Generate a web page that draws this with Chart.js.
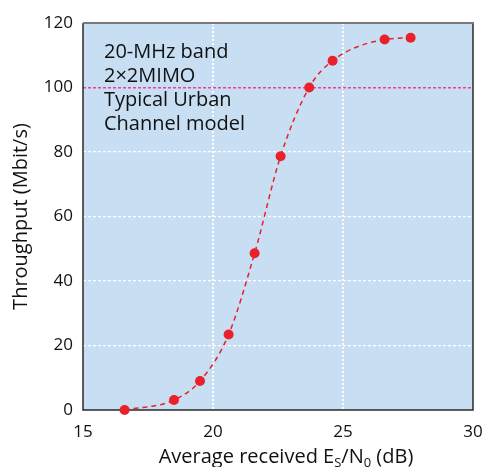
<!DOCTYPE html>
<html>
<head>
<meta charset="utf-8">
<script src="https://cdn.jsdelivr.net/npm/chart.js@4"></script>
<style>
  html, body { margin: 0; padding: 0; background: #fff; }
</style>
</head>
<body>
<canvas id="chart" width="485" height="467"></canvas>
<script>
// values
const snr = [16.6, 18.5, 19.5, 20.6, 21.6, 22.6, 23.7, 24.6, 26.6, 27.6];
const throughput = [0, 3.1, 9.0, 23.4, 48.6, 78.7, 100, 108.3, 114.9, 115.4];
const xTicks = [15, 20, 25, 30];
const yTicks = [0, 20, 40, 60, 80, 100, 120];
const refLevel = 100;
const noteLines = ['20-MHz band', '2×2MIMO', 'Typical Urban', 'Channel model'];

const FONT = "'Open Sans', 'Noto Sans', sans-serif";
const RED = '#E8212B';

const plotDecor = {
    id: 'plotDecor',
    beforeDraw(chart) {
        const { ctx, chartArea: a } = chart;
        ctx.save();
        ctx.fillStyle = '#C8DEF3';
        ctx.fillRect(a.left, a.top, a.right - a.left, a.bottom - a.top);
        ctx.restore();
    },
    beforeDatasetsDraw(chart) {
        const { ctx, chartArea: a } = chart;
        ctx.save();
        ctx.lineWidth = 1.5;
        ctx.strokeStyle = '#2a2a2a';
        ctx.beginPath();
        ctx.moveTo(a.left, a.top);
        ctx.lineTo(a.left, a.bottom);
        ctx.lineTo(a.right, a.bottom);
        ctx.lineTo(a.right, a.top);
        ctx.stroke();
        ctx.strokeStyle = '#7a7a7a';
        ctx.lineWidth = 2;
        ctx.beginPath();
        ctx.moveTo(a.left, a.top);
        ctx.lineTo(a.right + 1, a.top);
        ctx.stroke();
        ctx.restore();
    },
    afterDraw(chart) {
        const { ctx, chartArea: a } = chart;
        ctx.save();
        ctx.fillStyle = '#111';
        ctx.font = '20px ' + FONT;
        ctx.textBaseline = 'alphabetic';
        noteLines.forEach((t, i) => ctx.fillText(t, a.left + 21, a.top + 35 + i * 24));

        // x axis title with subscripts
        const parts = [
            ['Average received E', 20, 0],
            ['S', 13, 4],
            ['/N', 20, 0],
            ['0', 13, 4],
            [' (dB)', 20, 0]
        ];
        let w = 0;
        parts.forEach(p => { ctx.font = p[1] + 'px ' + FONT; w += ctx.measureText(p[0]).width; });
        let x = 286 - w / 2;
        const base = 463;
        parts.forEach(p => {
            ctx.font = p[1] + 'px ' + FONT;
            ctx.fillText(p[0], x, base + p[2]);
            x += ctx.measureText(p[0]).width;
        });
        ctx.restore();
    }
};

new Chart(document.getElementById('chart'), {
    type: 'line',
    data: {
        datasets: [{
            data: snr.map((v, i) => ({ x: v, y: throughput[i] })),
            borderColor: RED,
            borderWidth: 1.5,
            borderDash: [5, 4],
            cubicInterpolationMode: 'monotone',
            pointRadius: 5,
            pointBackgroundColor: RED,
            pointBorderWidth: 0,
            clip: false
        }]
    },
    options: {
        responsive: false,
        animation: false,
        devicePixelRatio: 1,
        layout: { padding: { left: 0, right: 12, top: 23, bottom: 0 } },
        plugins: { legend: { display: false }, tooltip: { enabled: false } },
        scales: {
            x: {
                type: 'linear',
                min: 15,
                max: 30,
                afterBuildTicks: s => { s.ticks = xTicks.map(v => ({ value: v })); },
                afterFit: s => { s.height = 57; s.paddingLeft = 0; s.paddingRight = 0; },
                grid: {
                    drawTicks: false,
                    lineWidth: 2,
                    color: c => (c.tick && (c.tick.value === 15 || c.tick.value === 30)) ? 'rgba(0,0,0,0)' : '#ffffff'
                },
                border: { display: false, dash: [2, 2] },
                ticks: { padding: 12, color: '#111', font: { family: FONT, size: 17 }, maxRotation: 0 }
            },
            y: {
                min: 0,
                max: 120,
                afterBuildTicks: s => { s.ticks = yTicks.map(v => ({ value: v })); },
                afterFit: s => { s.width = 83; s.paddingTop = 0; s.paddingBottom = 0; },
                grid: {
                    drawTicks: false,
                    lineWidth: c => (c.tick && c.tick.value === refLevel) ? 1.6 : 1.2,
                    color: c => {
                        if (!c.tick) return 'rgba(0,0,0,0)';
                        if (c.tick.value === refLevel) return '#F23C9E';
                        if (c.tick.value === 0 || c.tick.value === 120) return 'rgba(0,0,0,0)';
                        return '#ffffff';
                    }
                },
                border: { display: false, dash: [3, 2] },
                ticks: { padding: 10, color: '#111', font: { family: FONT, size: 17 } },
                title: {
                    display: true,
                    text: 'Throughput (Mbit/s)',
                    color: '#111',
                    font: { family: FONT, size: 20 },
                    padding: { top: 9, bottom: 4 }
                }
            }
        }
    },
    plugins: [plotDecor]
});
</script>
</body>
</html>
